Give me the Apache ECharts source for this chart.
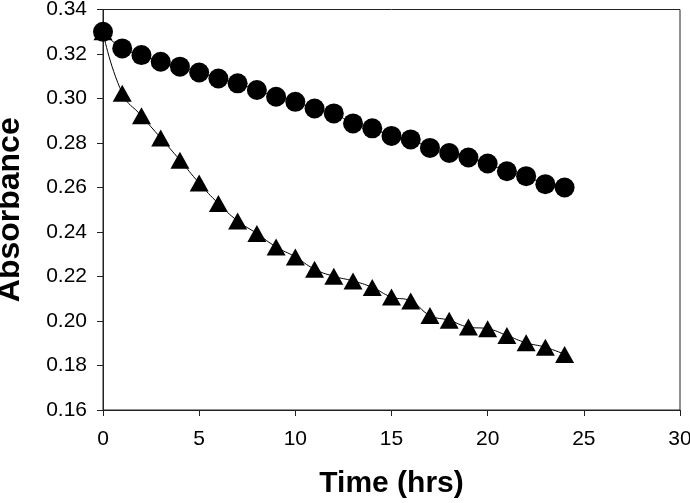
<!DOCTYPE html>
<html><head><meta charset="utf-8">
<script src="https://cdn.jsdelivr.net/npm/echarts@6/dist/echarts.min.js"></script>
<style>html,body{margin:0;padding:0;background:#fff}#c{width:690px;height:503px}</style>
</head><body><div id="c"></div>
<script>
const timeHrs = [0,1,2,3,4,5,6,7,8,9,10,11,12,13,14,15,16,17,18,19,20,21,22,23,24];
const circleSeries = [0.330,0.3225,0.3195,0.3165,0.3143,0.3117,0.3090,0.3068,0.3038,0.3008,0.2985,0.2955,0.2933,0.2888,0.2866,0.2832,0.2816,0.2778,0.2755,0.2735,0.2708,0.2673,0.2651,0.2615,0.2600];
const triangleSeries = [0.330,0.3024,0.2922,0.2823,0.2723,0.2620,0.2528,0.2450,0.2393,0.2333,0.2288,0.2233,0.2201,0.2180,0.2151,0.2108,0.2090,0.2025,0.2003,0.1973,0.1965,0.1935,0.1902,0.1882,0.1850];
const xTicks = {min:0,max:30,interval:5};
const yTicks = {min:0.16,max:0.34,interval:0.02};

const pair = (ys) => timeHrs.map((t,i)=>[t,ys[i]]);
const chart = echarts.init(document.getElementById('c'));
const font = 'Liberation Sans, Arial, sans-serif';
chart.setOption({
  animation:false,
  grid:{left:103,right:10,top:9.5,bottom:93,containLabel:false,outerBoundsMode:'none',
    show:true,borderColor:'#222',borderWidth:1,backgroundColor:'transparent'},
  xAxis:{type:'value',min:xTicks.min,max:xTicks.max,interval:xTicks.interval,
    name:'Time (hrs)',nameLocation:'middle',nameGap:59,
    nameTextStyle:{fontFamily:font,fontWeight:'bold',fontSize:30,color:'#000'},
    axisLine:{lineStyle:{color:'#222',width:1}},
    axisTick:{show:true,inside:false,length:6,lineStyle:{color:'#222'}},
    axisLabel:{fontFamily:font,fontSize:21,color:'#000',margin:19},
    splitLine:{show:false}},
  yAxis:{type:'value',min:yTicks.min,max:yTicks.max,interval:yTicks.interval,
    name:'Absorbance',nameLocation:'middle',nameGap:77,
    nameTextStyle:{fontFamily:font,fontWeight:'bold',fontSize:32,color:'#000'},
    axisLine:{show:true,lineStyle:{color:'#222',width:1}},
    axisTick:{show:true,inside:false,length:6,lineStyle:{color:'#222'}},
    axisLabel:{fontFamily:font,fontSize:21,color:'#000',margin:16,formatter:v=>v.toFixed(2)},
    splitLine:{show:false}},
  series:[
    {type:'line',data:pair(circleSeries),smooth:true,symbol:'circle',symbolSize:20,
     lineStyle:{color:'#000',width:1},itemStyle:{color:'#000'},z:3},
    {type:'line',data:pair(triangleSeries),smooth:true,symbol:'triangle',symbolSize:[19,17],
     lineStyle:{color:'#000',width:1},itemStyle:{color:'#000'},z:2}
  ]
});
</script></body></html>
